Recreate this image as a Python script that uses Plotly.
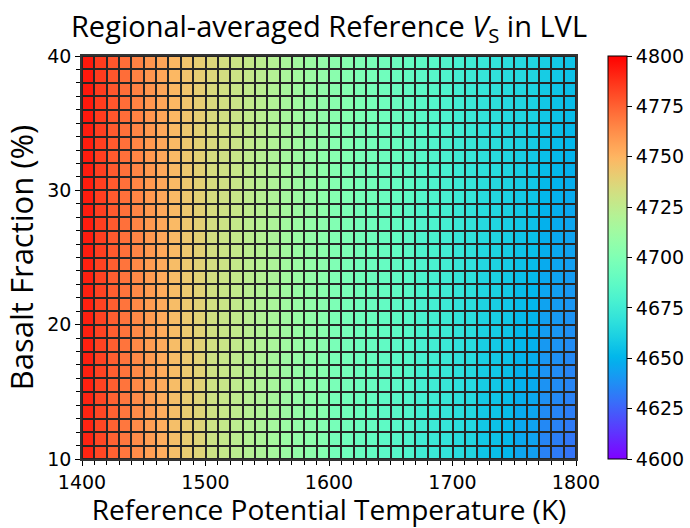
import math
import plotly.graph_objects as go

# Cell edges
temperature_edges = list(range(1400, 1801, 10))   # 41 edges -> 40 columns (K)
basalt_edges = list(range(10, 41, 1))              # 31 edges -> 30 rows (%)

# Regional-averaged reference Vs (m/s), rows from basalt 10-11% (bottom) to 39-40% (top)
vs_rows = [
    [4791,4782,4775,4769,4763,4757,4752,4746,4741,4737,4730,4727,4724,4721,4718,4715,4711,4708,4705,4702,4696,4694,4691,4689,4686,4684,4681,4675,4673,4670,4666,4663,4656,4654,4651,4645,4643,4634,4632,4630],
    [4791,4782,4775,4769,4763,4757,4752,4746,4741,4737,4730,4727,4724,4721,4718,4715,4711,4708,4705,4702,4696,4694,4691,4689,4686,4684,4681,4675,4673,4670,4666,4663,4657,4655,4652,4646,4644,4635,4633,4631],
    [4791,4782,4775,4769,4763,4757,4752,4746,4741,4737,4730,4727,4724,4721,4718,4715,4711,4708,4705,4702,4697,4695,4692,4690,4687,4685,4682,4676,4674,4671,4667,4664,4657,4655,4652,4646,4644,4636,4634,4632],
    [4791,4782,4775,4769,4763,4757,4752,4746,4741,4737,4731,4728,4725,4722,4719,4716,4712,4709,4706,4703,4697,4695,4692,4690,4687,4685,4682,4676,4674,4671,4667,4664,4658,4656,4653,4647,4645,4637,4635,4633],
    [4791,4782,4775,4769,4763,4757,4752,4746,4741,4737,4731,4728,4725,4722,4719,4716,4712,4709,4706,4703,4697,4695,4692,4690,4687,4685,4682,4677,4675,4672,4668,4665,4658,4656,4653,4648,4646,4638,4636,4634],
    [4792,4783,4776,4770,4764,4758,4753,4747,4742,4738,4731,4728,4725,4722,4719,4716,4712,4709,4706,4703,4698,4696,4693,4691,4688,4686,4683,4677,4675,4672,4668,4665,4659,4657,4654,4649,4647,4639,4637,4635],
    [4792,4783,4776,4770,4764,4758,4753,4747,4742,4738,4731,4728,4725,4722,4719,4716,4712,4709,4706,4703,4698,4696,4693,4691,4688,4686,4683,4677,4675,4672,4668,4665,4659,4657,4654,4649,4647,4639,4637,4635],
    [4792,4783,4776,4770,4764,4758,4753,4747,4742,4738,4731,4728,4725,4722,4719,4716,4712,4709,4706,4703,4698,4696,4693,4691,4688,4686,4683,4678,4676,4673,4669,4666,4660,4658,4655,4650,4648,4640,4638,4636],
    [4792,4783,4776,4770,4764,4758,4753,4747,4742,4738,4732,4729,4726,4723,4720,4717,4713,4710,4707,4704,4698,4696,4693,4691,4688,4686,4683,4678,4676,4673,4669,4666,4660,4658,4655,4651,4649,4641,4639,4637],
    [4792,4783,4776,4770,4764,4758,4753,4747,4742,4738,4732,4729,4726,4723,4720,4717,4713,4710,4707,4704,4699,4697,4694,4692,4689,4687,4684,4679,4677,4674,4670,4667,4661,4659,4656,4651,4649,4642,4640,4638],
    [4792,4783,4776,4770,4764,4758,4753,4747,4742,4738,4732,4729,4726,4723,4720,4717,4713,4710,4707,4704,4699,4697,4694,4692,4689,4687,4684,4679,4677,4674,4670,4667,4662,4660,4657,4652,4650,4643,4641,4639],
    [4792,4783,4776,4770,4764,4758,4753,4747,4742,4738,4732,4729,4726,4723,4720,4717,4713,4710,4707,4704,4699,4697,4694,4692,4689,4687,4684,4679,4677,4674,4670,4667,4662,4660,4657,4653,4651,4644,4642,4640],
    [4792,4783,4776,4770,4764,4758,4753,4747,4742,4738,4732,4729,4726,4723,4720,4717,4713,4710,4707,4704,4700,4698,4695,4693,4690,4688,4685,4680,4678,4675,4671,4668,4663,4661,4658,4653,4651,4645,4643,4641],
    [4792,4783,4776,4770,4764,4758,4753,4747,4742,4738,4733,4730,4727,4724,4721,4718,4714,4711,4708,4705,4700,4698,4695,4693,4690,4688,4685,4680,4678,4675,4671,4668,4663,4661,4658,4654,4652,4646,4644,4642],
    [4792,4783,4776,4770,4764,4758,4753,4747,4742,4738,4733,4730,4727,4724,4721,4718,4714,4711,4708,4705,4700,4698,4695,4693,4690,4688,4685,4681,4679,4676,4672,4669,4664,4662,4659,4655,4653,4647,4645,4643],
    [4793,4784,4777,4771,4765,4759,4754,4748,4743,4739,4733,4730,4727,4724,4721,4718,4714,4711,4708,4705,4701,4699,4696,4694,4691,4689,4686,4681,4679,4676,4672,4669,4664,4662,4659,4656,4654,4648,4646,4644],
    [4793,4784,4777,4771,4765,4759,4754,4748,4743,4739,4733,4730,4727,4724,4721,4718,4714,4711,4708,4705,4701,4699,4696,4694,4691,4689,4686,4681,4679,4676,4672,4669,4665,4663,4660,4656,4654,4648,4646,4644],
    [4793,4784,4777,4771,4765,4759,4754,4748,4743,4739,4733,4730,4727,4724,4721,4718,4714,4711,4708,4705,4701,4699,4696,4694,4691,4689,4686,4682,4680,4677,4673,4670,4665,4663,4660,4657,4655,4649,4647,4645],
    [4793,4784,4777,4771,4765,4759,4754,4748,4743,4739,4734,4731,4728,4725,4722,4719,4715,4712,4709,4706,4701,4699,4696,4694,4691,4689,4686,4682,4680,4677,4673,4670,4666,4664,4661,4658,4656,4650,4648,4646],
    [4793,4784,4777,4771,4765,4759,4754,4748,4743,4739,4734,4731,4728,4725,4722,4719,4715,4712,4709,4706,4702,4700,4697,4695,4692,4690,4687,4683,4681,4678,4674,4671,4666,4664,4661,4658,4656,4651,4649,4647],
    [4793,4784,4777,4771,4765,4759,4754,4748,4743,4739,4734,4731,4728,4725,4722,4719,4715,4712,4709,4706,4702,4700,4697,4695,4692,4690,4687,4683,4681,4678,4674,4671,4667,4665,4662,4659,4657,4652,4650,4648],
    [4793,4784,4777,4771,4765,4759,4754,4748,4743,4739,4734,4731,4728,4725,4722,4719,4715,4712,4709,4706,4702,4700,4697,4695,4692,4690,4687,4683,4681,4678,4674,4671,4668,4666,4663,4660,4658,4653,4651,4649],
    [4793,4784,4777,4771,4765,4759,4754,4748,4743,4739,4734,4731,4728,4725,4722,4719,4715,4712,4709,4706,4703,4701,4698,4696,4693,4691,4688,4684,4682,4679,4675,4672,4668,4666,4663,4660,4658,4654,4652,4650],
    [4793,4784,4777,4771,4765,4759,4754,4748,4743,4739,4735,4732,4729,4726,4723,4720,4716,4713,4710,4707,4703,4701,4698,4696,4693,4691,4688,4684,4682,4679,4675,4672,4669,4667,4664,4661,4659,4655,4653,4651],
    [4793,4784,4777,4771,4765,4759,4754,4748,4743,4739,4735,4732,4729,4726,4723,4720,4716,4713,4710,4707,4703,4701,4698,4696,4693,4691,4688,4685,4683,4680,4676,4673,4669,4667,4664,4662,4660,4656,4654,4652],
    [4794,4785,4778,4772,4766,4760,4755,4749,4744,4740,4735,4732,4729,4726,4723,4720,4716,4713,4710,4707,4704,4702,4699,4697,4694,4692,4689,4685,4683,4680,4676,4673,4670,4668,4665,4663,4661,4657,4655,4653],
    [4794,4785,4778,4772,4766,4760,4755,4749,4744,4740,4735,4732,4729,4726,4723,4720,4716,4713,4710,4707,4704,4702,4699,4697,4694,4692,4689,4685,4683,4680,4676,4673,4670,4668,4665,4663,4661,4657,4655,4653],
    [4794,4785,4778,4772,4766,4760,4755,4749,4744,4740,4735,4732,4729,4726,4723,4720,4716,4713,4710,4707,4704,4702,4699,4697,4694,4692,4689,4686,4684,4681,4677,4674,4671,4669,4666,4664,4662,4658,4656,4654],
    [4794,4785,4778,4772,4766,4760,4755,4749,4744,4740,4736,4733,4730,4727,4724,4721,4717,4714,4711,4708,4704,4702,4699,4697,4694,4692,4689,4686,4684,4681,4677,4674,4671,4669,4666,4665,4663,4659,4657,4655],
    [4794,4785,4778,4772,4766,4760,4755,4749,4744,4740,4736,4733,4730,4727,4724,4721,4717,4714,4711,4708,4705,4703,4700,4698,4695,4693,4690,4687,4685,4682,4678,4675,4672,4670,4667,4665,4663,4660,4658,4656],
]

x_tick_vals = [1400, 1500, 1600, 1700, 1800]
y_tick_vals = [10, 20, 30, 40]
cbar_tick_vals = [4600, 4625, 4650, 4675, 4700, 4725, 4750, 4775, 4800]

# matplotlib "rainbow" colormap as a Plotly colorscale
def rainbow(t):
    r = min(1.0, abs(2 * t - 0.5))
    g = math.sin(math.pi * t)
    b = math.cos(math.pi * t / 2)
    return "rgb(%d,%d,%d)" % (round(r * 255), round(g * 255), round(b * 255))

n_stops = 64
colorscale = [[i / (n_stops - 1), rainbow(i / (n_stops - 1))] for i in range(n_stops)]

fig = go.Figure(go.Heatmap(
    x=temperature_edges,
    y=basalt_edges,
    z=vs_rows,
    zmin=4600, zmax=4800,
    colorscale=colorscale,
    xgap=2, ygap=2,
    colorbar=dict(
        x=1.065, xanchor="left", xref="paper", xpad=0, ypad=0,
        y=0.5, yanchor="middle", len=1.0, lenmode="fraction",
        thickness=19, outlinewidth=1, outlinecolor="black",
        tickvals=cbar_tick_vals, ticks="outside", ticklen=5, tickwidth=1,
        tickcolor="black",
        tickfont=dict(family="DejaVu Sans", size=19, color="black"),
    ),
))

axis_common = dict(
    showgrid=False, zeroline=False,
    showline=True, linecolor="#333", linewidth=1.5, mirror=True,
    ticks="outside", ticklen=5, tickwidth=1.2, tickcolor="black",
    tickfont=dict(family="DejaVu Sans", size=19, color="black"),
)

fig.update_layout(
    width=690, height=528,
    margin=dict(l=82, r=114, t=56, b=69, autoexpand=False),
    paper_bgcolor="white",
    plot_bgcolor="#262626",
    title=dict(
        text="Regional-averaged Reference <i>V</i><sub>S</sub> in LVL",
        x=(82 + 576) / 2 / 690, xanchor="center",
        y=1 - 27 / 528, yanchor="middle",
        font=dict(family="Open Sans", size=29, color="black"),
    ),
    xaxis=dict(
        range=[1400, 1800], tickvals=x_tick_vals,
        minor=dict(dtick=10, tick0=1400, ticks="outside", ticklen=4, tickcolor="black"),
        title=dict(text="Reference Potential Temperature (K)", standoff=5,
                   font=dict(family="Open Sans", size=28, color="black")),
        **axis_common,
    ),
    yaxis=dict(
        range=[10, 40], tickvals=y_tick_vals,
        minor=dict(dtick=1, tick0=10, ticks="outside", ticklen=4, tickcolor="black"),
        title=dict(text="Basalt Fraction (%)", standoff=8,
                   font=dict(family="Open Sans", size=31, color="black")),
        **axis_common,
    ),
)

fig.write_html(
    "out.html",
    config={"displayModeBar": False},
    post_script="document.body.style.margin='0';document.body.style.padding='0';",
)
